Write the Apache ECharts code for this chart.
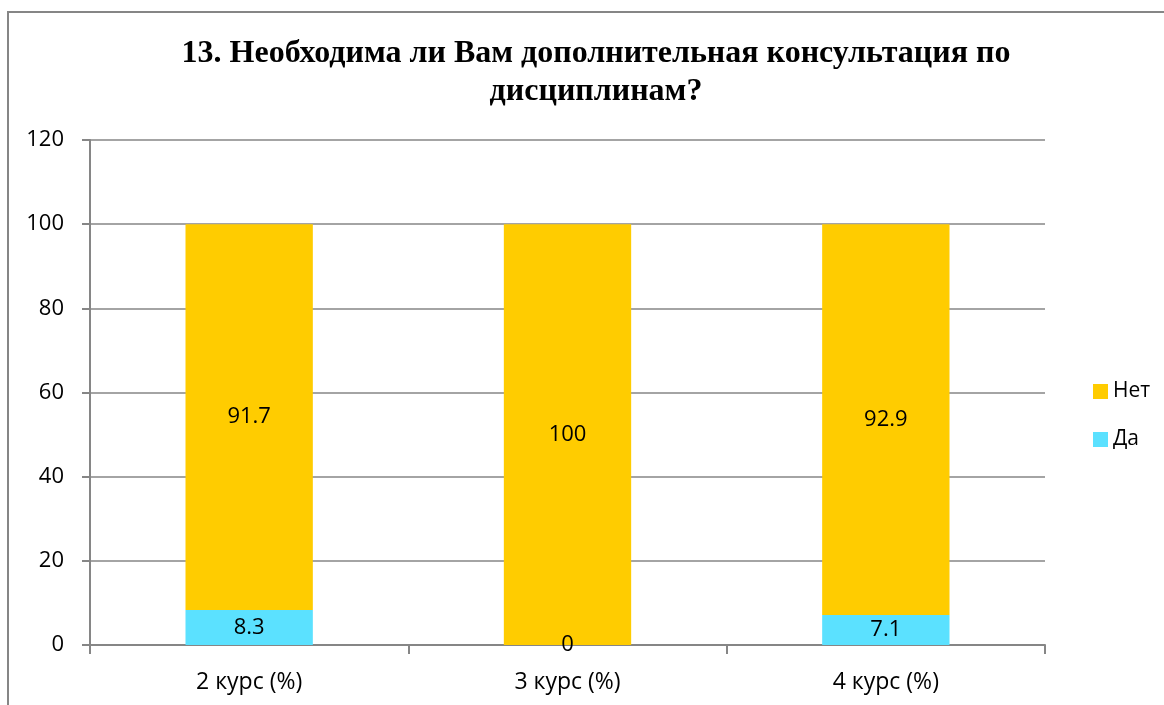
<!DOCTYPE html>
<html>
<head>
<meta charset="utf-8">
<script src="https://cdn.jsdelivr.net/npm/echarts@6/dist/echarts.min.js"></script>
<style>
html,body{margin:0;padding:0;background:#fff;}
#chart{width:1164px;height:705px;}
</style>
</head>
<body>
<div id="chart"></div>
<script>
const titleText = '13. Необходима ли Вам дополнительная консультация по\nдисциплинам?';
const categories = ['2 курс (%)', '3 курс (%)', '4 курс (%)'];
const seriesNames = ['Нет', 'Да'];
const netValues = [91.7, 100, 92.9];
const daValues = [8.3, 0, 7.1];
const yTicks = {min: 0, max: 120, interval: 20};

const axisGray = '#868686';
const labelFont = '"Open Sans", "Liberation Sans", sans-serif';

const chart = echarts.init(document.getElementById('chart'), null, {renderer: 'canvas'});
chart.setOption({
  animation: false,
  backgroundColor: '#ffffff',
  graphic: [{
    type: 'rect',
    shape: {x: 8, y: 12, width: 1300, height: 900},
    style: {fill: 'none', stroke: axisGray, lineWidth: 2},
    silent: true
  }],
  title: {
    text: titleText,
    left: 591,
    top: 30,
    textAlign: 'center',
    textStyle: {
      fontFamily: '"Liberation Serif", "DejaVu Serif", serif',
      fontWeight: 'bold',
      fontSize: 32,
      lineHeight: 38,
      color: '#000'
    }
  },
  legend: {
    orient: 'vertical',
    left: 1088,
    top: 376,
    itemWidth: 15,
    itemHeight: 15,
    itemGap: 27,
    icon: 'rect',
    data: seriesNames,
    textStyle: {fontFamily: labelFont, fontSize: 21, color: '#000'}
  },
  grid: {left: 90, right: 119, top: 140, bottom: 60, containLabel: false},
  xAxis: {
    type: 'category',
    data: categories,
    axisLine: {lineStyle: {color: axisGray, width: 2}},
    axisTick: {show: true, alignWithLabel: false, length: 9, lineStyle: {color: axisGray, width: 2}},
    axisLabel: {fontFamily: labelFont, fontSize: 23, color: '#000', margin: 26}
  },
  yAxis: {
    type: 'value',
    min: yTicks.min,
    max: yTicks.max,
    interval: yTicks.interval,
    axisLine: {show: true, lineStyle: {color: axisGray, width: 2}},
    axisTick: {show: true, length: 8, lineStyle: {color: axisGray, width: 2}},
    splitLine: {lineStyle: {color: axisGray, width: 1.5}},
    axisLabel: {fontFamily: labelFont, fontSize: 22, color: '#000', margin: 26}
  },
  series: [
    {
      name: 'Да',
      type: 'bar',
      stack: 'total',
      barWidth: '40%',
      data: daValues,
      itemStyle: {color: '#5BE1FF'},
      label: {show: true, position: 'inside', fontFamily: labelFont, fontSize: 22, color: '#000'}
    },
    {
      name: 'Нет',
      type: 'bar',
      stack: 'total',
      barWidth: '40%',
      data: netValues,
      itemStyle: {color: '#FFCC00'},
      label: {show: true, position: 'inside', fontFamily: labelFont, fontSize: 22, color: '#000'}
    }
  ]
});
</script>
</body>
</html>
